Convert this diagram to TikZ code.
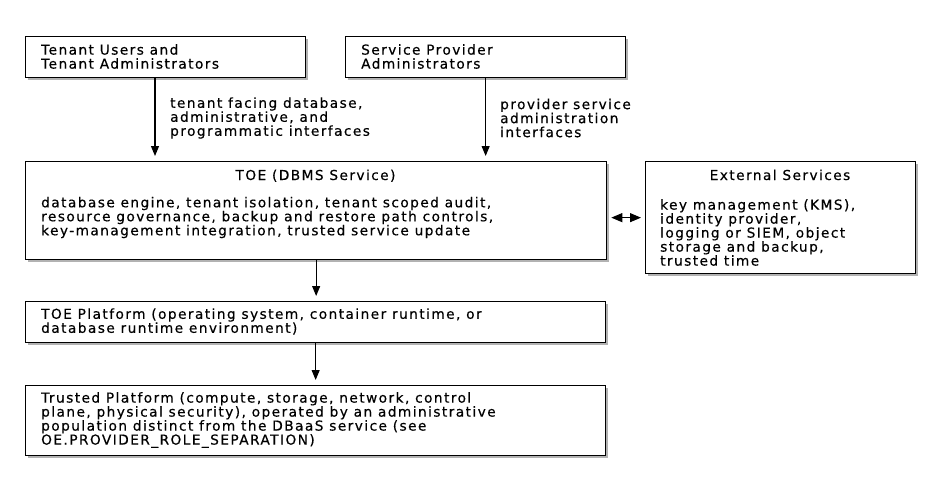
\documentclass[tikz,border=0pt]{standalone}
\usepackage{fontspec}
\setmainfont{DejaVu Sans}[LetterSpace=10.5, FakeBold=0.4]
\usetikzlibrary{arrows.meta,shadows,positioning}
\tikzset{
	box/.style={draw, line width=1.3pt, fill=white, anchor=north west, inner sep=0pt,
		drop shadow={shadow xshift=2pt, shadow yshift=-2pt, fill=black, opacity=0.3}},
	txt/.style={inner sep=0pt, align=left, font=\fontsize{13.7}{14}\selectfont},
	arr/.style={line width=1.1pt, -{Triangle[length=10pt,width=8pt]}, shorten >=5pt},
	biarr/.style={line width=1.1pt, {Triangle[length=11pt,width=9pt]}-{Triangle[length=11pt,width=9pt]}, shorten >=4pt, shorten <=4pt}
}
\begin{document}
\begin{tikzpicture}[x = 1pt, y = -1pt]
		\useasboundingbox (0,0) rectangle (940,490);
		\node [box, minimum width=280pt, minimum height=41pt] (tenants) at (25,36) {};
		\node [txt, anchor=west] (tenantsText) at (41,56.5) {Tenant Users and\\Tenant Administrators};
		\node [box, minimum width=280pt, minimum height=41pt] (provider) at (345,36) {};
		\node [txt, anchor=west] (providerText) at (361,56.5) {Service Provider\\Administrators};
		\node [box, minimum width=581pt, minimum height=98pt] (toe) at (25,161) {};
		\node [txt, anchor=base] (toeTitle) at (315.5,180) {TOE (DBMS Service)};
		\node [txt, anchor=west] (toeText) at (41,217.5) {database engine, tenant isolation, tenant scoped audit,\\resource governance, backup and restore path controls,\\key-management integration, trusted service update};
		\node [box, minimum width=270pt, minimum height=112pt] (ext) at (645,161) {};
		\node [txt, anchor=base] (extTitle) at (780,180) {External Services};
		\node [txt, anchor=west] (extText) at (660,232.5) {key management (KMS),\\identity provider,\\logging or SIEM, object\\storage and backup,\\trusted time};
		\node [box, minimum width=580pt, minimum height=41pt] (platform) at (25,301) {};
		\node [txt, anchor=west] (platformText) at (41,321.5) {TOE Platform (operating system, container runtime, or\\database runtime environment)};
		\node [box, minimum width=580pt, minimum height=70pt] (trusted) at (25,385) {};
		\node [txt, anchor=west] (trustedText) at (41,420) {Trusted Platform (compute, storage, network, control\\plane, physical security), operated by an administrative\\population distinct from the DBaaS service (see\\OE.PROVIDER\_ROLE\_SEPARATION)};
		% interfaces into the TOE
		\coordinate (tenantLine) at (155,0);
		\draw [arr] (tenants.south -| tenantLine) -- (toe.north -| tenantLine);
		\node [txt, anchor=west] (tenantLabel) at (170,118) {tenant facing database,\\administrative, and\\programmatic interfaces};
		\draw [arr] (provider.south) -- (toe.north -| provider.south);
		\node [txt, anchor=west] (providerLabel) at (500,118) {provider service\\administration\\interfaces};
		\draw [biarr] (ext.west -| toe.east) -- (ext.west);
		\draw [arr] (toe.south) -- (platform.north -| toe.south);
		\draw [arr] (platform.south) -- (trusted.north);
	\end{tikzpicture}
\end{document}
